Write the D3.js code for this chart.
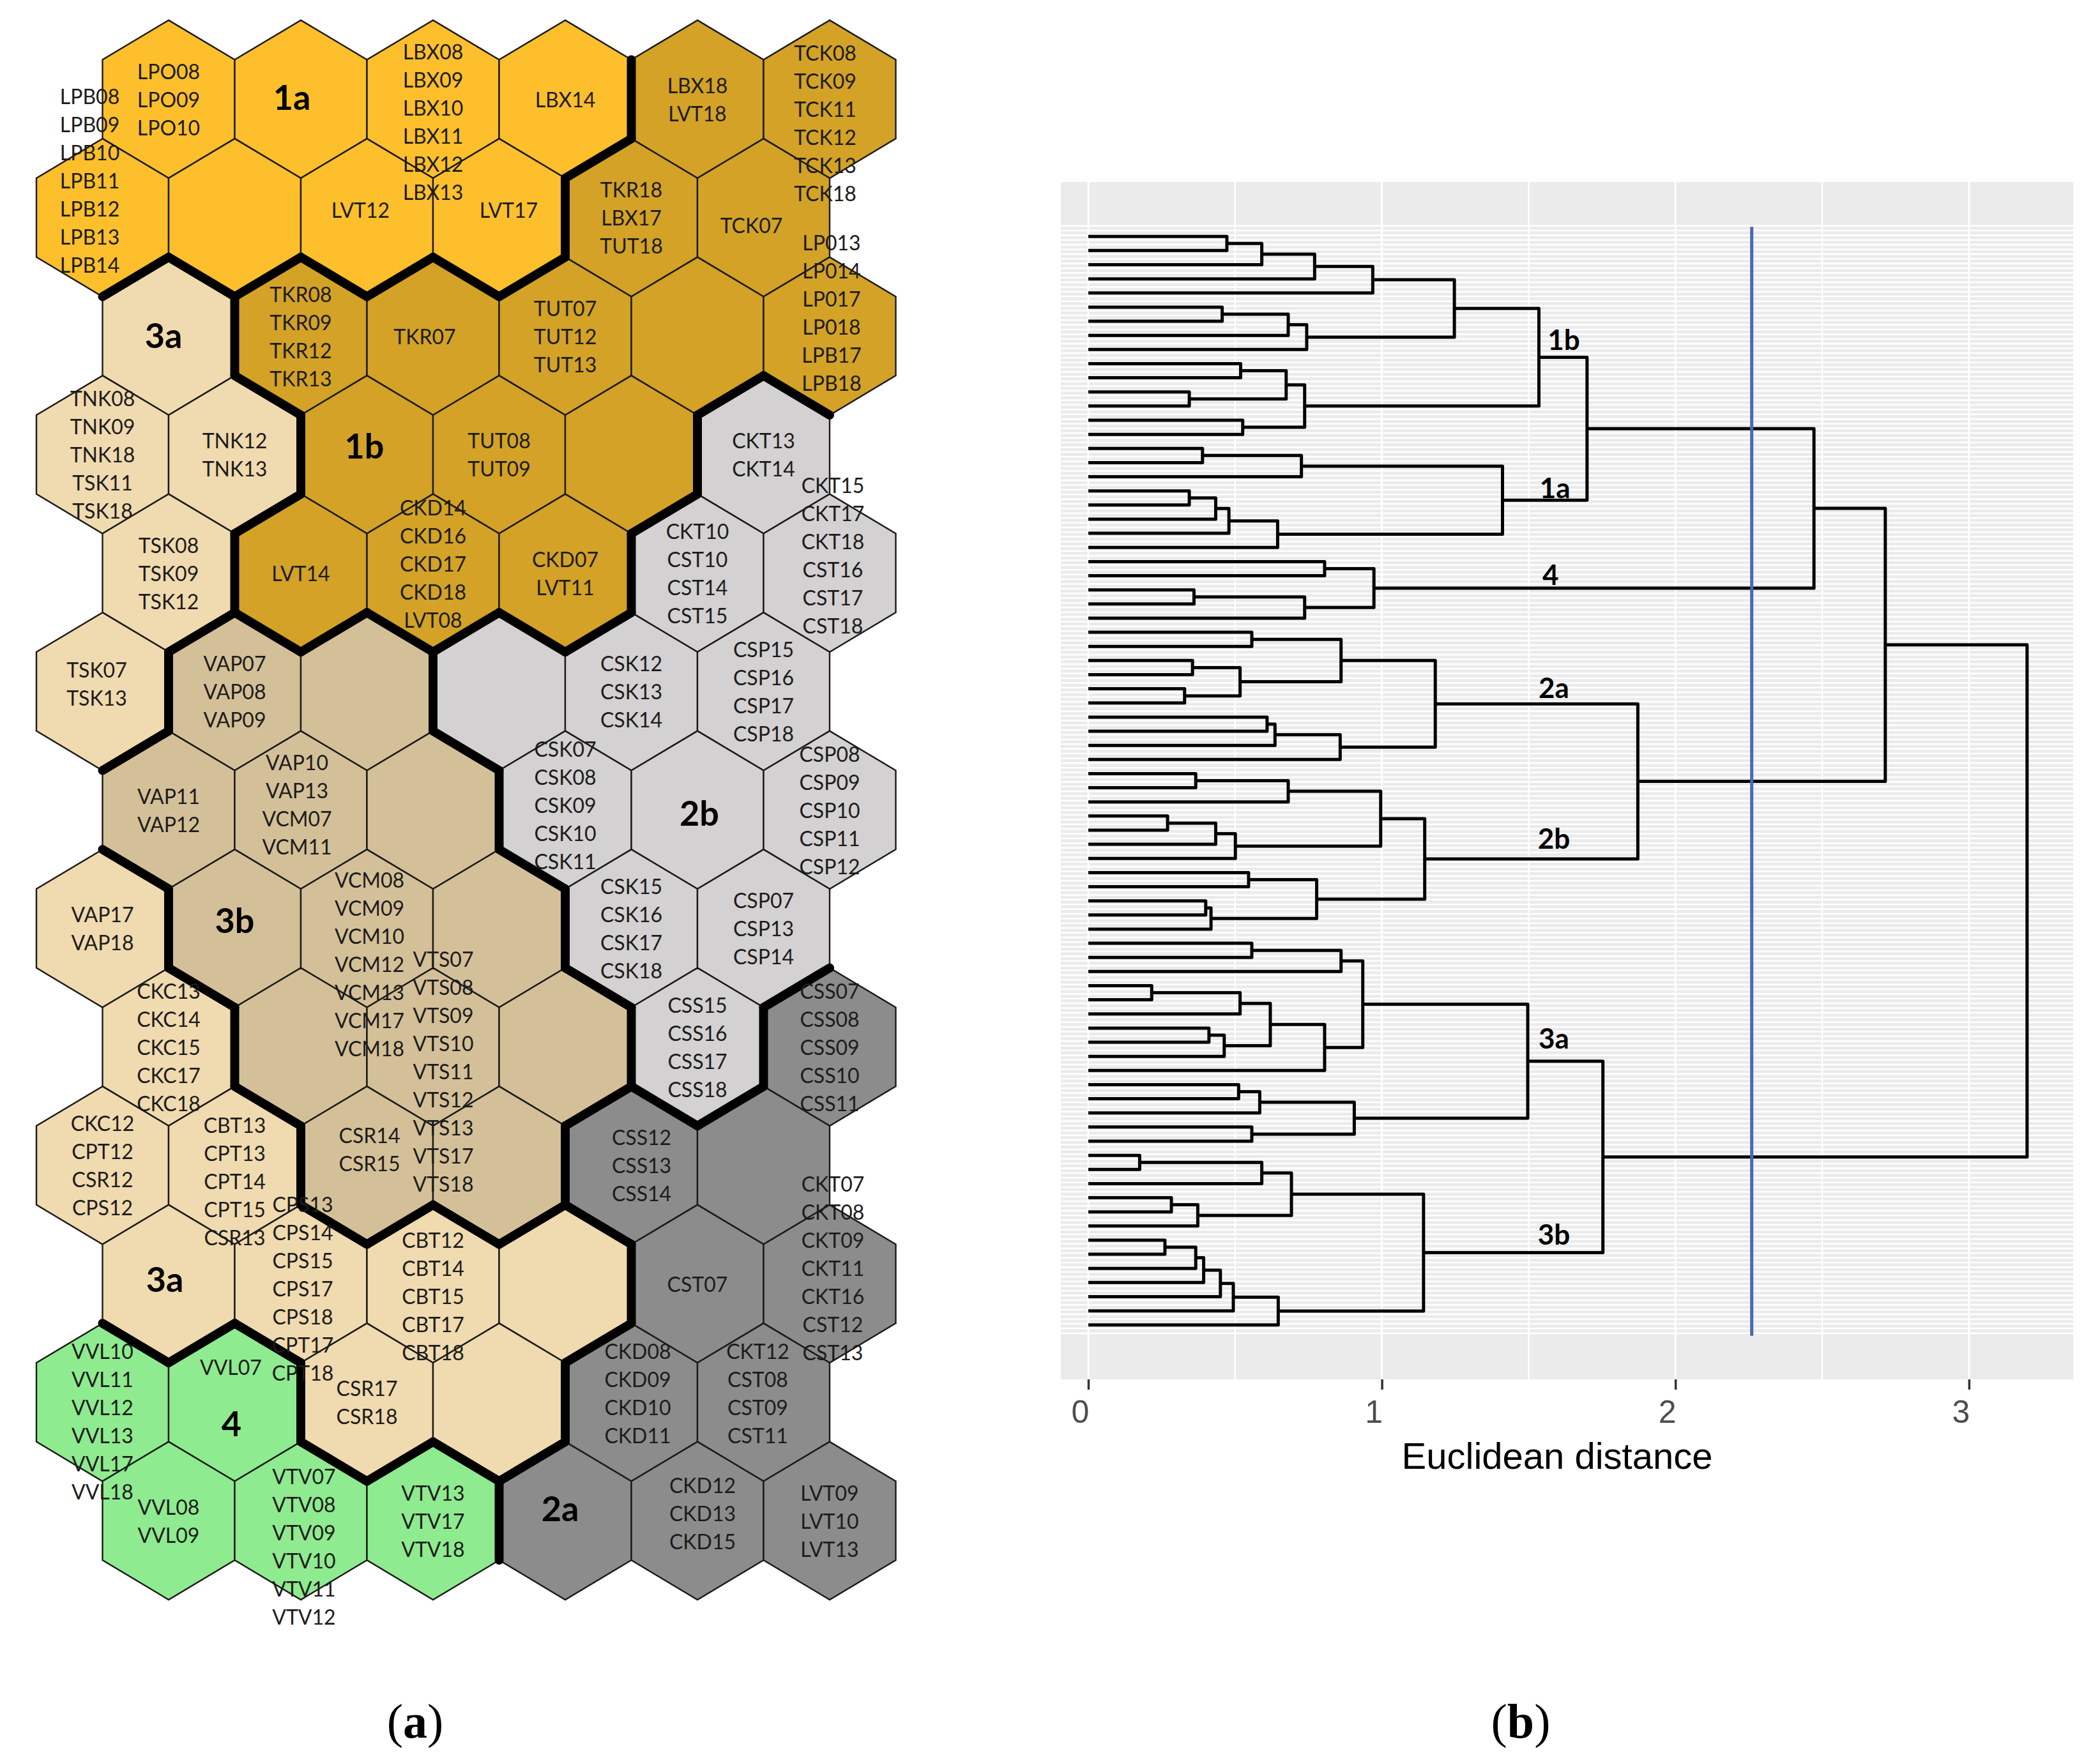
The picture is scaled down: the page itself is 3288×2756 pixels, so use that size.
<!DOCTYPE html>
<html><head><meta charset="utf-8">
<script src="https://cdn.jsdelivr.net/npm/d3@7"></script>
<style>body{margin:0;background:#fff}</style>
</head><body>
<svg id="chart" width="3288" height="2756" xmlns="http://www.w3.org/2000/svg"></svg>
<script>
// ================= DATA =================
// (a) SOM hex map: 13 rows x 6 columns, cluster of each node
const hexClusters = [
 ["1a","1a","1a","1a","1b","1b"],
 ["1a","1a","1a","1a","1b","1b"],
 ["3a","1b","1b","1b","1b","1b"],
 ["3a","3a","1b","1b","1b","2b"],
 ["3a","1b","1b","1b","2b","2b"],
 ["3a","3b","3b","2b","2b","2b"],
 ["3b","3b","3b","2b","2b","2b"],
 ["3a","3b","3b","3b","2b","2b"],
 ["3a","3b","3b","3b","2b","2a"],
 ["3a","3a","3b","3b","2a","2a"],
 ["3a","3a","3a","3a","2a","2a"],
 ["4","4","3a","3a","2a","2a"],
 ["4","4","4","2a","2a","2a"]
];
// samples mapped to each node
const hexLabels = [
 ["LPO08 LPO09 LPO10","","LBX08 LBX09 LBX10 LBX11 LBX12 LBX13","LBX14","LBX18 LVT18","TCK08 TCK09 TCK11 TCK12 TCK13 TCK18"],
 ["LPB08 LPB09 LPB10 LPB11 LPB12 LPB13 LPB14","","LVT12","LVT17","TKR18 LBX17 TUT18","TCK07"],
 ["","TKR08 TKR09 TKR12 TKR13","TKR07","TUT07 TUT12 TUT13","","LP013 LP014 LP017 LP018 LPB17 LPB18"],
 ["TNK08 TNK09 TNK18 TSK11 TSK18","TNK12 TNK13","","TUT08 TUT09","","CKT13 CKT14"],
 ["TSK08 TSK09 TSK12","LVT14","CKD14 CKD16 CKD17 CKD18 LVT08","CKD07 LVT11","CKT10 CST10 CST14 CST15","CKT15 CKT17 CKT18 CST16 CST17 CST18"],
 ["TSK07 TSK13","VAP07 VAP08 VAP09","","","CSK12 CSK13 CSK14","CSP15 CSP16 CSP17 CSP18"],
 ["VAP11 VAP12","VAP10 VAP13 VCM07 VCM11","","CSK07 CSK08 CSK09 CSK10 CSK11","","CSP08 CSP09 CSP10 CSP11 CSP12"],
 ["VAP17 VAP18","","VCM08 VCM09 VCM10 VCM12 VCM13 VCM17 VCM18","","CSK15 CSK16 CSK17 CSK18","CSP07 CSP13 CSP14"],
 ["CKC13 CKC14 CKC15 CKC17 CKC18","","VTS07 VTS08 VTS09 VTS10 VTS11 VTS12 VTS13 VTS17 VTS18","","CSS15 CSS16 CSS17 CSS18","CSS07 CSS08 CSS09 CSS10 CSS11"],
 ["CKC12 CPT12 CSR12 CPS12","CBT13 CPT13 CPT14 CPT15 CSR13","CSR14 CSR15","","CSS12 CSS13 CSS14",""],
 ["","CPS13 CPS14 CPS15 CPS17 CPS18 CPT17 CPT18","CBT12 CBT14 CBT15 CBT17 CBT18","","CST07","CKT07 CKT08 CKT09 CKT11 CKT16 CST12 CST13"],
 ["VVL10 VVL11 VVL12 VVL13 VVL17 VVL18","VVL07","CSR17 CSR18","","CKD08 CKD09 CKD10 CKD11","CKT12 CST08 CST09 CST11"],
 ["VVL08 VVL09","VTV07 VTV08 VTV09 VTV10 VTV11 VTV12","VTV13 VTV17 VTV18","","CKD12 CKD13 CKD15","LVT09 LVT10 LVT13"]
];
// cells carrying the cluster name
const clusterLabelCells = [
 {name:"1a",row:0,col:1},{name:"3a",row:2,col:0},{name:"1b",row:3,col:2},{name:"2b",row:6,col:4},
 {name:"3b",row:7,col:1},{name:"3a",row:10,col:0},{name:"4",row:11,col:1},{name:"2a",row:12,col:3}
];

// (b) dendrogram: 78 leaves (top to bottom), merges in hclust convention
// negative = leaf position, positive = earlier merge (1-based)
const leafCount = 78;
const merges = [
 [-1,-2],[1,-3],[2,-4],[3,-5],[-6,-7],[5,-8],[6,-9],[4,7],[-10,-11],[-12,-13],
 [9,10],[-14,-15],[11,12],[8,13],
 [-16,-17],[15,-18],[-19,-20],[17,-21],[18,-22],[19,-23],[16,20],[14,21],
 [-24,-25],[-26,-27],[24,-28],[23,25],[22,26],
 [-29,-30],[-31,-32],[-33,-34],[29,30],[28,31],[-35,-36],[33,-37],[34,-38],[32,35],
 [-39,-40],[37,-41],[-42,-43],[39,-44],[40,-45],[38,41],[-46,-47],[-48,-49],[44,-50],[43,45],[42,46],
 [36,47],[27,48],
 [-51,-52],[50,-53],[-54,-55],[52,-56],[-57,-58],[54,-59],[53,55],[56,-60],[51,57],
 [-61,-62],[59,-63],[-64,-65],[60,61],[58,62],
 [-66,-67],[64,-68],[-69,-70],[66,-71],[65,67],[-72,-73],[69,-74],[70,-75],[71,-76],[72,-77],[73,-78],[68,74],
 [63,75],[49,76]
];
const mergeHeights = [
 0.472,0.591,0.771,0.969,0.456,0.681,0.744,1.247,0.519,0.344,
 0.674,0.526,0.737,1.535,
 0.389,0.726,0.344,0.434,0.479,0.645,1.411,1.699,
 0.805,0.360,0.737,0.973,2.472,
 0.557,0.355,0.328,0.517,0.861,0.609,0.636,0.858,1.182,
 0.366,0.681,0.270,0.434,0.501,0.996,0.546,0.400,0.418,0.778,1.146,
 1.872,2.715,
 0.557,0.861,0.216,0.517,0.411,0.463,0.620,0.805,0.935,
 0.512,0.584,0.557,0.906,1.497,
 0.175,0.591,0.283,0.373,0.692,0.261,0.366,0.393,0.450,0.494,0.647,1.142,
 1.753,3.198
];
const clusterNames = ["1b","1a","4","2a","2b","3a","3b"];
const clusterNodes = [14,21,26,36,47,63,75];
const cutHeight = 2.26;
const xTicks = [0,1,2,3];
const xMinorTicks = [0.5,1.5,2.5];
const axisTitle = "Euclidean distance";
const panelCaptions = ["a","b"];

// ================= STYLE / LAYOUT =================
const clusterColors = {"1a":"#FDBF2C","1b":"#D3A226","2a":"#8C8C8C","2b":"#D3D1D1","3a":"#F0DAAF","3b":"#D4C098","4":"#8FEB8F"};
const stackNudge = {"0,2":[0,35],"0,5":[-7,37],"1,0":[-20,-58],"1,2":[-10,-12],"1,3":[15,-12],"1,5":[-19,12],
 "2,2":[-13,0],"2,5":[3,-37],"4,2":[0,-15],"4,5":[5,-28],"5,0":[-9,-12],"6,1":[-6,-9],"6,3":[0,-8],
 "7,2":[4,56],"8,2":[16,38],"9,1":[0,25],"9,2":[4,-25],"9,4":[16,0],"10,1":[3,7],"10,2":[0,19],"10,5":[5,-25],
 "11,0":[0,30],"11,1":[-6,-55],"11,4":[10,-14],"11,5":[-9,-14],"12,1":[5,40],"12,4":[8,-12]};
const clusterNudge = {"0,1":[-14,-4],"2,0":[-8,-2],"3,2":[-4,-14],"6,4":[3,4],"7,1":[0,-13],"10,0":[-6,-8],"11,1":[-5,33],"12,3":[-8,-20]};
const dendroLabelX = {"1b":1.62,"1a":1.59,"4":1.575,"2a":1.586,"2b":1.586,"3a":1.586,"3b":1.586};
const dendroLabelDy = {"1b":-28,"1a":-20,"4":-22,"2a":-26,"2b":-33,"3a":-37,"3b":-29};

const svg = d3.select("#chart");
svg.append("rect").attr("width",3288).attr("height",2756).attr("fill","#fff");

// ================= (a) HEX MAP =================
const HW = 207, HS = 123.7;
const xCol = d3.scaleLinear().domain([0,5]).range([264,1299]);
const yRow = d3.scaleLinear().domain([0,12]).range([155.3,2381.3]);
const cxOf = (r,c) => xCol(r%2 ? c-0.5 : c);
const cyOf = r => yRow(r);
const verts = [[0,-HS],[HW/2,-HS/2],[HW/2,HS/2],[0,HS],[-HW/2,HS/2],[-HW/2,-HS/2]];
const cells = [];
hexClusters.forEach((row,r)=>row.forEach((cl,c)=>cells.push({r,c,cl,labels:hexLabels[r][c]?hexLabels[r][c].split(" "):[]})));
const gA = svg.append("g");
gA.selectAll("path.hex").data(cells).join("path").attr("class","hex")
  .attr("d",d=>"M"+verts.map(v=>[cxOf(d.r,d.c)+v[0],cyOf(d.r)+v[1]].join(",")).join("L")+"Z")
  .attr("fill",d=>clusterColors[d.cl]).attr("stroke","#1b1b1b").attr("stroke-width",2.4);

function neighbor(r,c,e){
  const even = r%2===0;
  const off = even ? [[-1,1],[0,1],[1,1],[1,0],[0,-1],[-1,0]] : [[-1,0],[0,1],[1,0],[1,-1],[0,-1],[-1,-1]];
  const nr=r+off[e][0], nc=c+off[e][1];
  if(nr<0||nr>=hexClusters.length||nc<0||nc>=6) return null;
  return {r:nr,c:nc};
}
const borders=[];
cells.forEach(d=>{
  for(let e=0;e<6;e++){
    const n=neighbor(d.r,d.c,e);
    if(!n) continue;
    if(hexClusters[n.r][n.c]!==d.cl && (n.r*10+n.c)>(d.r*10+d.c)){
      const a=verts[e], b=verts[(e+1)%6];
      borders.push([cxOf(d.r,d.c)+a[0],cyOf(d.r)+a[1],cxOf(d.r,d.c)+b[0],cyOf(d.r)+b[1]]);
    }
  }
});
gA.selectAll("line.border").data(borders).join("line").attr("class","border")
  .attr("x1",d=>d[0]).attr("y1",d=>d[1]).attr("x2",d=>d[2]).attr("y2",d=>d[3])
  .attr("stroke","#000").attr("stroke-width",14).attr("stroke-linecap","round");

const LH = 44;
cells.filter(d=>d.labels.length).forEach(d=>{
  const nd = stackNudge[d.r+","+d.c]||[0,0];
  const x0 = cxOf(d.r,d.c)+nd[0], y0 = cyOf(d.r)+nd[1];
  const n = d.labels.length;
  gA.selectAll(null).data(d.labels).join("text")
    .attr("x",x0).attr("y",(t,i)=>y0+(i-(n-1)/2)*LH)
    .attr("text-anchor","middle").attr("dominant-baseline","central")
    .attr("font-family","Lato, 'Open Sans', sans-serif").attr("font-size",32).attr("fill","#1c1c1c")
    .text(t=>t);
});
gA.selectAll("text.cl").data(clusterLabelCells).join("text").attr("class","cl")
  .attr("x",d=>cxOf(d.row,d.col)+(clusterNudge[d.row+","+d.col]||[0,0])[0])
  .attr("y",d=>cyOf(d.row)+(clusterNudge[d.row+","+d.col]||[0,0])[1])
  .attr("text-anchor","middle").attr("dominant-baseline","central")
  .attr("font-family","Lato, sans-serif").attr("font-weight",700).attr("font-size",54).attr("fill","#000")
  .text(d=>d.name);

// ================= (b) DENDROGRAM =================
const xD = d3.scaleLinear().domain([-0.0935,3.355]).range([1661,3246]);
const yD = d3.scaleLinear().domain([-2.85,81.85]).range([285,2160]);
const gB = svg.append("g");
gB.append("rect").attr("x",xD.range()[0]).attr("y",yD.range()[0])
  .attr("width",xD.range()[1]-xD.range()[0]).attr("height",yD.range()[1]-yD.range()[0]).attr("fill","#EBEBEB");
// horizontal stripe grid
const stripes = d3.range(0.25,78.7,1/3);
gB.selectAll("line.hs").data(stripes).join("line").attr("class","hs")
  .attr("x1",xD.range()[0]).attr("x2",xD.range()[1]).attr("y1",d=>yD(d)).attr("y2",d=>yD(d))
  .attr("stroke","#fff").attr("stroke-width",2.6);
gB.selectAll("line.vmin").data(xMinorTicks).join("line").attr("class","vmin")
  .attr("x1",d=>xD(d)).attr("x2",d=>xD(d)).attr("y1",yD.range()[0]).attr("y2",yD.range()[1])
  .attr("stroke","#fff").attr("stroke-width",2.4);
gB.selectAll("line.vmaj").data(xTicks).join("line").attr("class","vmaj")
  .attr("x1",d=>xD(d)).attr("x2",d=>xD(d)).attr("y1",yD.range()[0]).attr("y2",yD.range()[1])
  .attr("stroke","#fff").attr("stroke-width",3);

// node positions
const nodeY = [], nodeX = [];
const posY = id => id<0 ? -id : nodeY[id-1];
const posX = id => id<0 ? 0 : nodeX[id-1];
merges.forEach((m,k)=>{ nodeY[k]=(posY(m[0])+posY(m[1]))/2; nodeX[k]=mergeHeights[k]; });
gB.selectAll("path.br").data(merges).join("path").attr("class","br")
  .attr("d",(m,k)=>`M${xD(posX(m[0]))},${yD(posY(m[0]))}H${xD(mergeHeights[k])}V${yD(posY(m[1]))}H${xD(posX(m[1]))}`)
  .attr("fill","none").attr("stroke","#000").attr("stroke-width",5).attr("stroke-linejoin","round");

// cut line
gB.append("line").attr("x1",xD(cutHeight)).attr("x2",xD(cutHeight)).attr("y1",yD(0.32)).attr("y2",yD(78.77))
  .attr("stroke","#4668B6").attr("stroke-width",5);

// cluster labels on dendrogram
gB.selectAll("text.dl").data(clusterNames).join("text").attr("class","dl")
  .attr("x",d=>xD(dendroLabelX[d]))
  .attr("y",(d,i)=>yD(nodeY[clusterNodes[i]-1])+dendroLabelDy[d])
  .attr("text-anchor","middle").attr("dominant-baseline","central")
  .attr("font-family","Lato, sans-serif").attr("font-weight",700).attr("font-size",44).attr("fill","#000")
  .text(d=>d);

// axis
const ax = gB.append("g").attr("transform",`translate(0,${yD.range()[1]})`)
  .call(d3.axisBottom(xD).tickValues(xTicks).tickSize(16).tickFormat(d3.format("d")));
ax.select(".domain").remove();
ax.selectAll(".tick line").attr("stroke","#333").attr("stroke-width",3.5);
ax.selectAll(".tick text").attr("y",68).attr("dy",0).attr("x",-13)
  .attr("font-family","'Liberation Sans', Arial, sans-serif").attr("font-size",50).attr("fill","#4D4D4D");
gB.append("text").attr("x",2438).attr("y",2300).attr("text-anchor","middle")
  .attr("font-family","'Liberation Sans', Arial, sans-serif").attr("font-size",58).attr("fill","#000")
  .text(axisTitle);

// captions
const capX = [650,2381];
panelCaptions.forEach((c,i)=>{
  const t = svg.append("text").attr("x",capX[i]).attr("y",2721).attr("text-anchor","middle")
    .attr("font-family","'Liberation Serif', 'DejaVu Serif', serif").attr("font-size",76).attr("fill","#000");
  t.append("tspan").text("(");
  t.append("tspan").attr("font-weight",700).text(c);
  t.append("tspan").text(")");
});
</script>
</body></html>
